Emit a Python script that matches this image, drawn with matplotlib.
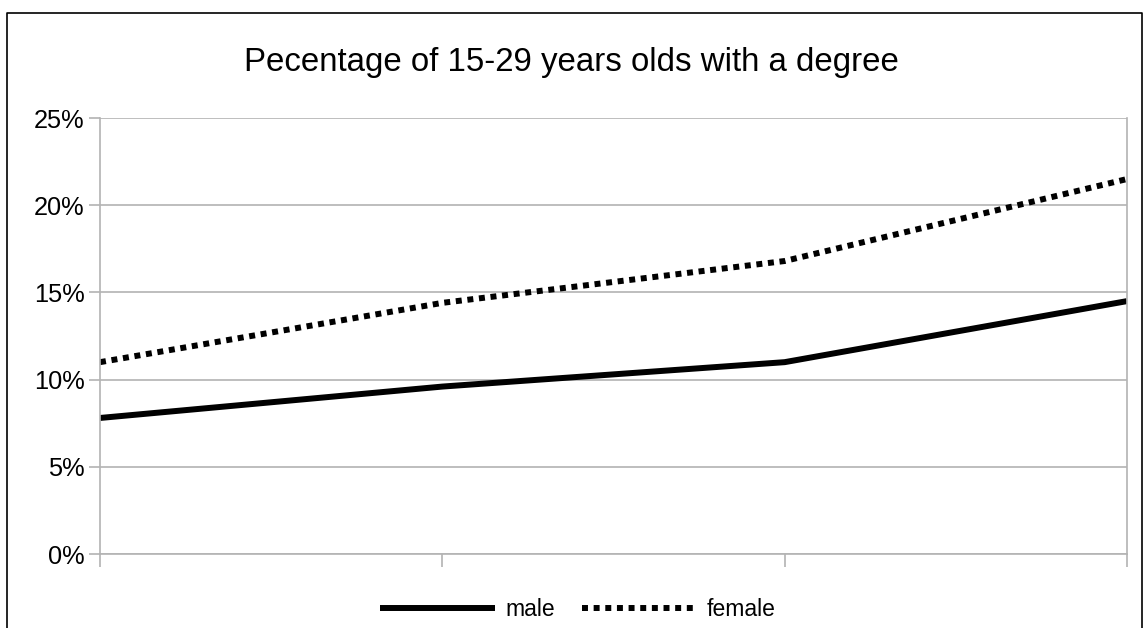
import matplotlib
matplotlib.use("Agg")
import matplotlib.pyplot as plt
from matplotlib.lines import Line2D
from matplotlib.ticker import FuncFormatter

plt.rcParams["font.family"] = ["Liberation Sans", "DejaVu Sans"]

# Data: share of 15-29 year olds holding a degree, four survey points
periods = ["", "", "", ""]
male = [7.8, 9.6, 11.0, 14.5]
female = [11.0, 14.4, 16.8, 21.5]
y_ticks = [0, 5, 10, 15, 20, 25]
title = "Pecentage of 15-29 years olds with a degree"

W, H = 1143, 628
fig = plt.figure(figsize=(W / 100, H / 100), dpi=100)

# Outer frame (left, top and right edges)
frame = Line2D([7 / W, 7 / W, 1142 / W, 1142 / W],
               [0, 1 - 13 / H, 1 - 13 / H, 0],
               transform=fig.transFigure, color="black", lw=1.2)
fig.add_artist(frame)

ax = fig.add_axes([100 / W, (H - 554) / H, (1127 - 100) / W, (554 - 118) / H])

x = list(range(len(periods)))
grid_c = "#b3b3b3"
lw = 4.3
ax.plot(x, male, color="black", lw=lw, solid_capstyle="butt", label="male")
ax.plot(x, female, color="black", lw=lw, linestyle=(0, (1.0, 0.95)),
        dash_capstyle="butt", label="female")

ax.set_xlim(0, len(periods) - 1)
ax.set_ylim(0, 25)
ax.set_yticks(y_ticks)
ax.yaxis.set_major_formatter(FuncFormatter(lambda v, p: f"{v:.0f}%"))
ax.set_xticks(x)
ax.set_xticklabels(periods)

ax.grid(axis="y", color=grid_c, lw=1.2)
ax.set_axisbelow(True)
for side in ["left", "bottom", "right"]:
    ax.spines[side].set_color(grid_c)
    ax.spines[side].set_linewidth(1.2)
ax.spines["top"].set_visible(False)

ax.tick_params(axis="y", length=8, color=grid_c, width=1.2, labelsize=18.3, pad=3,
               labelcolor="black")
ax.tick_params(axis="x", length=9, color=grid_c, width=1.2, labelsize=1)

fig.text(571 / W, 1 - 62 / H, title, ha="center", va="center", fontsize=23.8)

fig.legend(loc="center", bbox_to_anchor=(578 / W, 1 - 610 / H), ncol=2,
           frameon=False, fontsize=16.5, handlelength=5.0, handletextpad=0.45,
           columnspacing=1.2)

fig.savefig("out.png", dpi=100)
